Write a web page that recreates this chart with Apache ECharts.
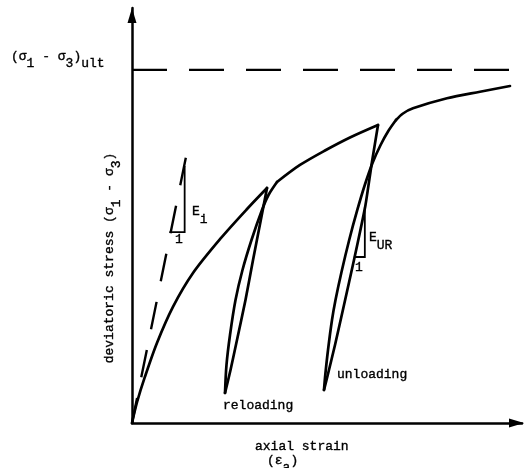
<!DOCTYPE html>
<html>
<head>
<meta charset="utf-8">
<script src="https://cdn.jsdelivr.net/npm/echarts@6/dist/echarts.min.js"></script>
<style>
  html, body { margin: 0; padding: 0; background: #fff; }
  #chart { width: 527px; height: 468px; }
</style>
</head>
<body>
<div id="chart"></div>
<script>
// Stress path points as [axial strain, deviatoric stress], both in % of the axis range
const primaryLoading   = [[0,0],[1.3,5.06],[3.3,11.1],[6.4,19.3],[10.5,28.0],[15.6,36.1],[22.6,44.34],[29.5,51.57],[34.62,56.63]];
const firstUnloading   = [[34.62,56.63],[33.03,48.92],[31.03,39.28],[29.1,29.64],[26.92,20.0],[25.26,12.77],[23.85,7.23]];
const firstReloading   = [[23.85,7.23],[24.23,13.98],[25.13,21.2],[26.54,29.64],[28.33,36.87],[30.64,44.1],[33.33,51.33],[35.0,54.94],[37.18,58.07]];
const continuedLoading = [[37.18,58.07],[43.08,62.17],[49.49,65.66],[55.9,68.8],[63.08,71.81]];
const secondUnloading  = [[63.08,71.81],[61.49,62.65],[59.87,52.53],[58.46,46.02],[56.92,39.28],[54.36,28.43],[52.05,18.8],[50.13,11.33],[49.23,7.95]];
const secondReloading  = [[49.23,7.95],[49.56,11.57],[50.26,17.59],[51.28,24.82],[52.18,29.64],[53.72,36.39],[55.69,44.1],[57.77,51.33],[59.69,57.35],[61.67,62.65],[63.74,66.99],[65.72,70.36],[67.69,73.01]];
const finalLoading     = [[67.69,73.01],[69.49,74.58],[72.05,75.83],[80.77,78.24],[89.23,79.83],[96.92,81.2]];

// Asymptote (σ1 - σ3)ult and the initial tangent modulus line
const ultimateStress = 85.1;
const ultimateStrainEnd = 96.9;
const initialTangent = [[13.8,63.9],[0,0]];

// Slope triangles for Ei and EUR
const eiTriangle  = [[9.6,46.0],[13.5,46.0],[13.5,61.9]];
const eurTriangle = [[56.9,40.0],[59.7,40.0],[59.7,52.0]];

const FONT = '13px "Liberation Mono", monospace';
const INK = '#000';

const chart = echarts.init(document.getElementById('chart'), null, { renderer: 'canvas' });

function curve(data, extra) {
  return Object.assign({
    type: 'line',
    data: data,
    showSymbol: false,
    symbol: 'none',
    smooth: 0.3,
    clip: false,
    silent: true,
    lineStyle: { color: INK, width: 2.7, cap: 'round', join: 'round' }
  }, extra || {});
}

// typewriter-like lettering: regular mono face with a hairline outline for weight
const inkText = { font: FONT, fill: INK, stroke: INK, lineWidth: 0.35, verticalAlign: 'top' };
const rich = {
  m: Object.assign({}, inkText),
  s: Object.assign({}, inkText, { padding: [7, 0, 0, 0] }),
  t: Object.assign({}, inkText, { padding: [8, 0, 0, 0] })
};

function label(x, y, text, opts) {
  return Object.assign({
    type: 'text',
    x: x, y: y,
    silent: true,
    style: Object.assign({
      legacy: false,
      text: text,
      fill: INK,
      font: FONT,
      align: 'left',
      verticalAlign: 'top',
      rich: rich
    }, (opts && opts.style) || {})
  }, (opts && opts.el) || {});
}

const axisCommon = {
  type: 'value',
  min: 0,
  max: 100,
  axisTick: { show: false },
  axisLabel: { show: false },
  splitLine: { show: false }
};

chart.setOption({
  animation: false,
  backgroundColor: '#fff',
  grid: { left: 132, right: 5, top: 8, bottom: 45, containLabel: false },
  xAxis: Object.assign({}, axisCommon, {
    axisLine: {
      show: true, onZero: false,
      symbol: ['none', 'triangle'], symbolSize: [9, 15], symbolOffset: [0, -5.5],
      lineStyle: { color: INK, width: 2.5 }
    }
  }),
  yAxis: Object.assign({}, axisCommon, {
    axisLine: {
      show: true, onZero: false,
      symbol: ['none', 'triangle'], symbolSize: [9, 15], symbolOffset: [0, -7.5],
      lineStyle: { color: INK, width: 2.5 }
    }
  }),
  series: [
    curve([[0, ultimateStress], [ultimateStrainEnd, ultimateStress]],
      { smooth: false, lineStyle: { color: INK, width: 2.4, type: [35, 22], cap: 'butt' } }),
    curve(initialTangent,
      { smooth: false, lineStyle: { color: INK, width: 2.4, type: [28, 21], cap: 'butt' } }),
    curve(eiTriangle, { smooth: false, lineStyle: { color: INK, width: 1.8, join: 'miter' } }),
    curve(eurTriangle, { smooth: false, lineStyle: { color: INK, width: 1.8, join: 'miter' } }),
    curve(primaryLoading),
    curve(firstUnloading, { smooth: 0.2 }),
    curve(firstReloading),
    curve(continuedLoading),
    curve(secondUnloading, { smooth: 0.2 }),
    curve(secondReloading),
    curve(finalLoading)
  ],
  graphic: [
    label(11, 50.5, '{m|(σ}{s|1}{m| - σ}{s|3}{m|)}{s|ult}'),
    label(103.5, 258, '{m|deviatoric stress (σ}{s|1}{m| - σ}{s|3}{m|)}',
      { style: { align: 'center' }, el: { rotation: Math.PI / 2 } }),
    label(255, 440.5, '{m|axial strain}'),
    label(267, 454.5, '{m|(ε}{s|a}{m|)}'),
    label(223, 399.5, '{m|reloading}'),
    label(337, 368.5, '{m|unloading}'),
    label(192, 205, '{m|E}{t|i}'),
    label(179, 233.5, '{m|1}', { style: { align: 'center' } }),
    label(369, 231, '{m|E}{t|UR}'),
    label(359, 261.5, '{m|1}', { style: { align: 'center' } })
  ]
});
</script>
</body>
</html>
